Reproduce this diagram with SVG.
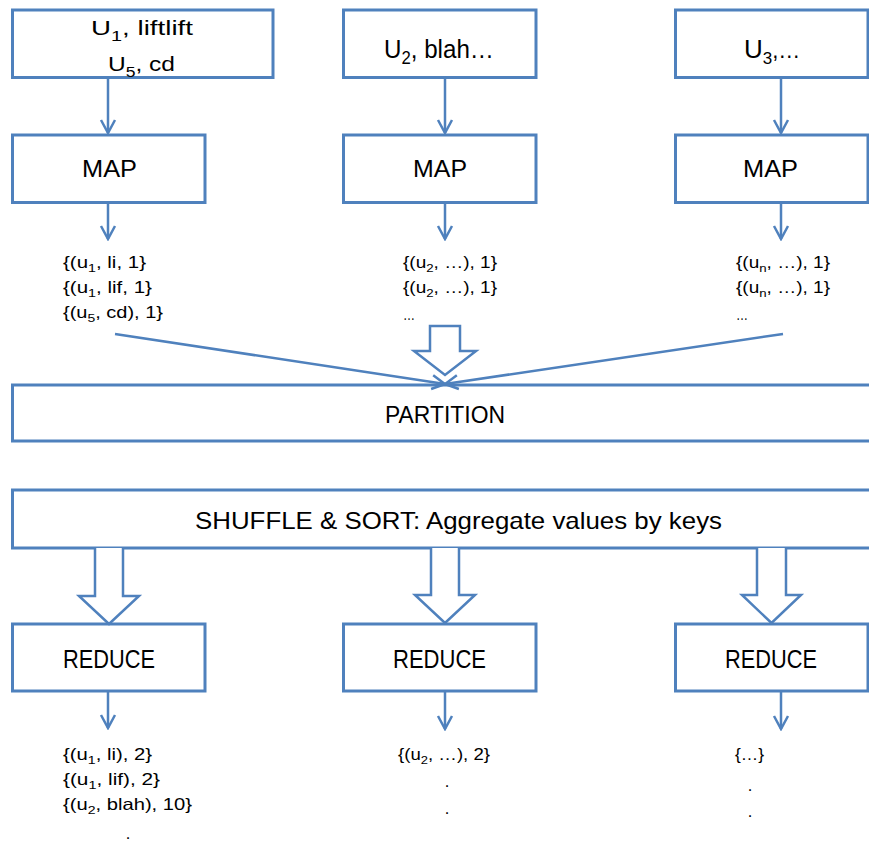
<svg xmlns="http://www.w3.org/2000/svg" width="869" height="841" viewBox="0 0 869 841">
<style>
.box{fill:#fff;stroke:#4F81BD;stroke-width:3}
.ln{fill:none;stroke:#4F81BD;stroke-width:2.5}
.blk{fill:#fff;stroke:#4F81BD;stroke-width:2.5;stroke-linejoin:miter}
text{font-family:"Liberation Sans",Arial,sans-serif;fill:#000}
.t21{font-size:21px}.t26{font-size:26px}.t23{font-size:23px}.t24{font-size:24px}.t25{font-size:25px}.s{font-size:16.5px}
.c{text-anchor:middle}
</style>
<defs>
<marker id="ah" viewBox="-16 -10 18 20" markerWidth="18" markerHeight="20" refX="0" refY="0" orient="auto" markerUnits="userSpaceOnUse">
<path d="M-13,-7 L0,0 L-13,7" fill="none" stroke="#4F81BD" stroke-width="2.5"/>
</marker>
</defs>
<g id="input1"><rect class="box" x="12.5" y="10" width="260.5" height="67.5"/>
<text class="t21" x="91" y="35" textLength="102" lengthAdjust="spacingAndGlyphs">U<tspan font-size="15" dy="6">1</tspan><tspan dy="-6">, liftlift</tspan></text>
<text class="t21" x="108" y="71" textLength="67" lengthAdjust="spacingAndGlyphs">U<tspan font-size="15" dy="6">5</tspan><tspan dy="-6">, cd</tspan></text></g>
<g id="input2"><rect class="box" x="343.5" y="10" width="192.5" height="67.5"/>
<text class="t26" x="384" y="58" textLength="110" lengthAdjust="spacingAndGlyphs">U<tspan font-size="18" dy="6">2</tspan><tspan dy="-6">, blah…</tspan></text></g>
<g id="input3"><rect class="box" x="675.5" y="10" width="192.5" height="67.5"/>
<text class="t26" x="744" y="58">U<tspan font-size="17" dy="6">3</tspan><tspan dy="-6" font-size="22">,…</tspan></text></g>
<g id="map1"><rect class="box" x="12.5" y="135" width="192.5" height="67.5"/><text class="t23" x="82" y="177" textLength="55" lengthAdjust="spacingAndGlyphs">MAP</text></g>
<g id="map2"><rect class="box" x="343.5" y="135" width="192.5" height="67.5"/><text class="t23" x="413" y="177" textLength="54" lengthAdjust="spacingAndGlyphs">MAP</text></g>
<g id="map3"><rect class="box" x="675.5" y="135" width="192.5" height="67.5"/><text class="t23" x="743" y="177" textLength="55" lengthAdjust="spacingAndGlyphs">MAP</text></g>
<g id="mapout1">
<text class="s" x="63" y="268" textLength="83" lengthAdjust="spacingAndGlyphs">{(u<tspan font-size="11.5" dy="4">1</tspan><tspan dy="-4">, li, 1}</tspan></text>
<text class="s" x="63" y="293" textLength="89" lengthAdjust="spacingAndGlyphs">{(u<tspan font-size="11.5" dy="4">1</tspan><tspan dy="-4">, lif, 1}</tspan></text>
<text class="s" x="63" y="318" textLength="100" lengthAdjust="spacingAndGlyphs">{(u<tspan font-size="11.5" dy="4">5</tspan><tspan dy="-4">, cd), 1}</tspan></text></g>
<g id="mapout2">
<text class="s" x="403" y="268" textLength="94" lengthAdjust="spacingAndGlyphs">{(u<tspan font-size="11.5" dy="4">2</tspan><tspan dy="-4">, …), 1}</tspan></text>
<text class="s" x="403" y="293" textLength="94" lengthAdjust="spacingAndGlyphs">{(u<tspan font-size="11.5" dy="4">2</tspan><tspan dy="-4">, …), 1}</tspan></text>
<text class="s" x="403" y="320" textLength="12" lengthAdjust="spacingAndGlyphs">…</text></g>
<g id="mapout3">
<text class="s" x="736" y="268" textLength="94" lengthAdjust="spacingAndGlyphs">{(u<tspan font-size="11.5" dy="4">n</tspan><tspan dy="-4">, …), 1}</tspan></text>
<text class="s" x="736" y="293" textLength="94" lengthAdjust="spacingAndGlyphs">{(u<tspan font-size="11.5" dy="4">n</tspan><tspan dy="-4">, …), 1}</tspan></text>
<text class="s" x="736" y="320" textLength="12" lengthAdjust="spacingAndGlyphs">…</text></g>
<g id="partition"><rect class="box" x="12.5" y="385" width="870" height="56"/><text class="t23" x="385" y="423" textLength="120" lengthAdjust="spacingAndGlyphs">PARTITION</text></g>
<g id="shuffle"><rect class="box" x="12.5" y="490" width="870" height="58"/><text class="t24" x="195" y="529" textLength="527" lengthAdjust="spacingAndGlyphs">SHUFFLE &amp; SORT: Aggregate values by keys</text></g>
<g id="reduce1"><rect class="box" x="12.5" y="624" width="192.5" height="67"/><text class="t25" x="63" y="668" textLength="92" lengthAdjust="spacingAndGlyphs">REDUCE</text></g>
<g id="reduce2"><rect class="box" x="343.5" y="624" width="192.5" height="67"/><text class="t25" x="393" y="668" textLength="93" lengthAdjust="spacingAndGlyphs">REDUCE</text></g>
<g id="reduce3"><rect class="box" x="675.5" y="624" width="192.5" height="67"/><text class="t25" x="725" y="668" textLength="92" lengthAdjust="spacingAndGlyphs">REDUCE</text></g>
<g id="redout1">
<text class="s" x="63" y="760" textLength="89" lengthAdjust="spacingAndGlyphs">{(u<tspan font-size="11.5" dy="4">1</tspan><tspan dy="-4">, li), 2}</tspan></text>
<text class="s" x="63" y="785" textLength="97" lengthAdjust="spacingAndGlyphs">{(u<tspan font-size="11.5" dy="4">1</tspan><tspan dy="-4">, lif), 2}</tspan></text>
<text class="s" x="63" y="810" textLength="129" lengthAdjust="spacingAndGlyphs">{(u<tspan font-size="11.5" dy="4">2</tspan><tspan dy="-4">, blah), 10}</tspan></text>
<text class="s c" x="128" y="839">.</text></g>
<g id="redout2">
<text class="s" x="398" y="760" textLength="92" lengthAdjust="spacingAndGlyphs">{(u<tspan font-size="11.5" dy="4">2</tspan><tspan dy="-4">, …), 2}</tspan></text>
<text class="s c" x="447" y="787">.</text>
<text class="s c" x="447" y="814">.</text></g>
<g id="redout3">
<text class="s" x="735" y="760" textLength="29" lengthAdjust="spacingAndGlyphs">{…}</text>
<text class="s c" x="750" y="791">.</text>
<text class="s c" x="750" y="817">.</text></g>
<g id="connectors">
<line class="ln" x1="108" y1="78" x2="108" y2="133" marker-end="url(#ah)"/>
<line class="ln" x1="445" y1="78" x2="445" y2="133" marker-end="url(#ah)"/>
<line class="ln" x1="781" y1="78" x2="781" y2="133" marker-end="url(#ah)"/>
<line class="ln" x1="108" y1="203" x2="108" y2="239" marker-end="url(#ah)"/>
<line class="ln" x1="445" y1="203" x2="445" y2="239" marker-end="url(#ah)"/>
<line class="ln" x1="781" y1="203" x2="781" y2="239" marker-end="url(#ah)"/>
<line class="ln" x1="115" y1="334" x2="445" y2="384" marker-end="url(#ah)"/>
<line class="ln" x1="783" y1="334" x2="445" y2="384" marker-end="url(#ah)"/>
<polygon class="blk" points="430,326 460,326 460,351 476,351 445,375 414,351 430,351"/>
<path class="blk" d="M95,548 V596 H79 L109,624 L139,596 H123 V548"/>
<path class="blk" d="M431,548 V595 H415 L445,623 L475,595 H459 V548"/>
<path class="blk" d="M757,548 V595 H742 L771.5,623 L801,595 H786 V548"/>
<line class="ln" x1="108" y1="692" x2="108" y2="728" marker-end="url(#ah)"/>
<line class="ln" x1="445" y1="692" x2="445" y2="729" marker-end="url(#ah)"/>
<line class="ln" x1="781" y1="692" x2="781" y2="729" marker-end="url(#ah)"/>
</g>
</svg>
